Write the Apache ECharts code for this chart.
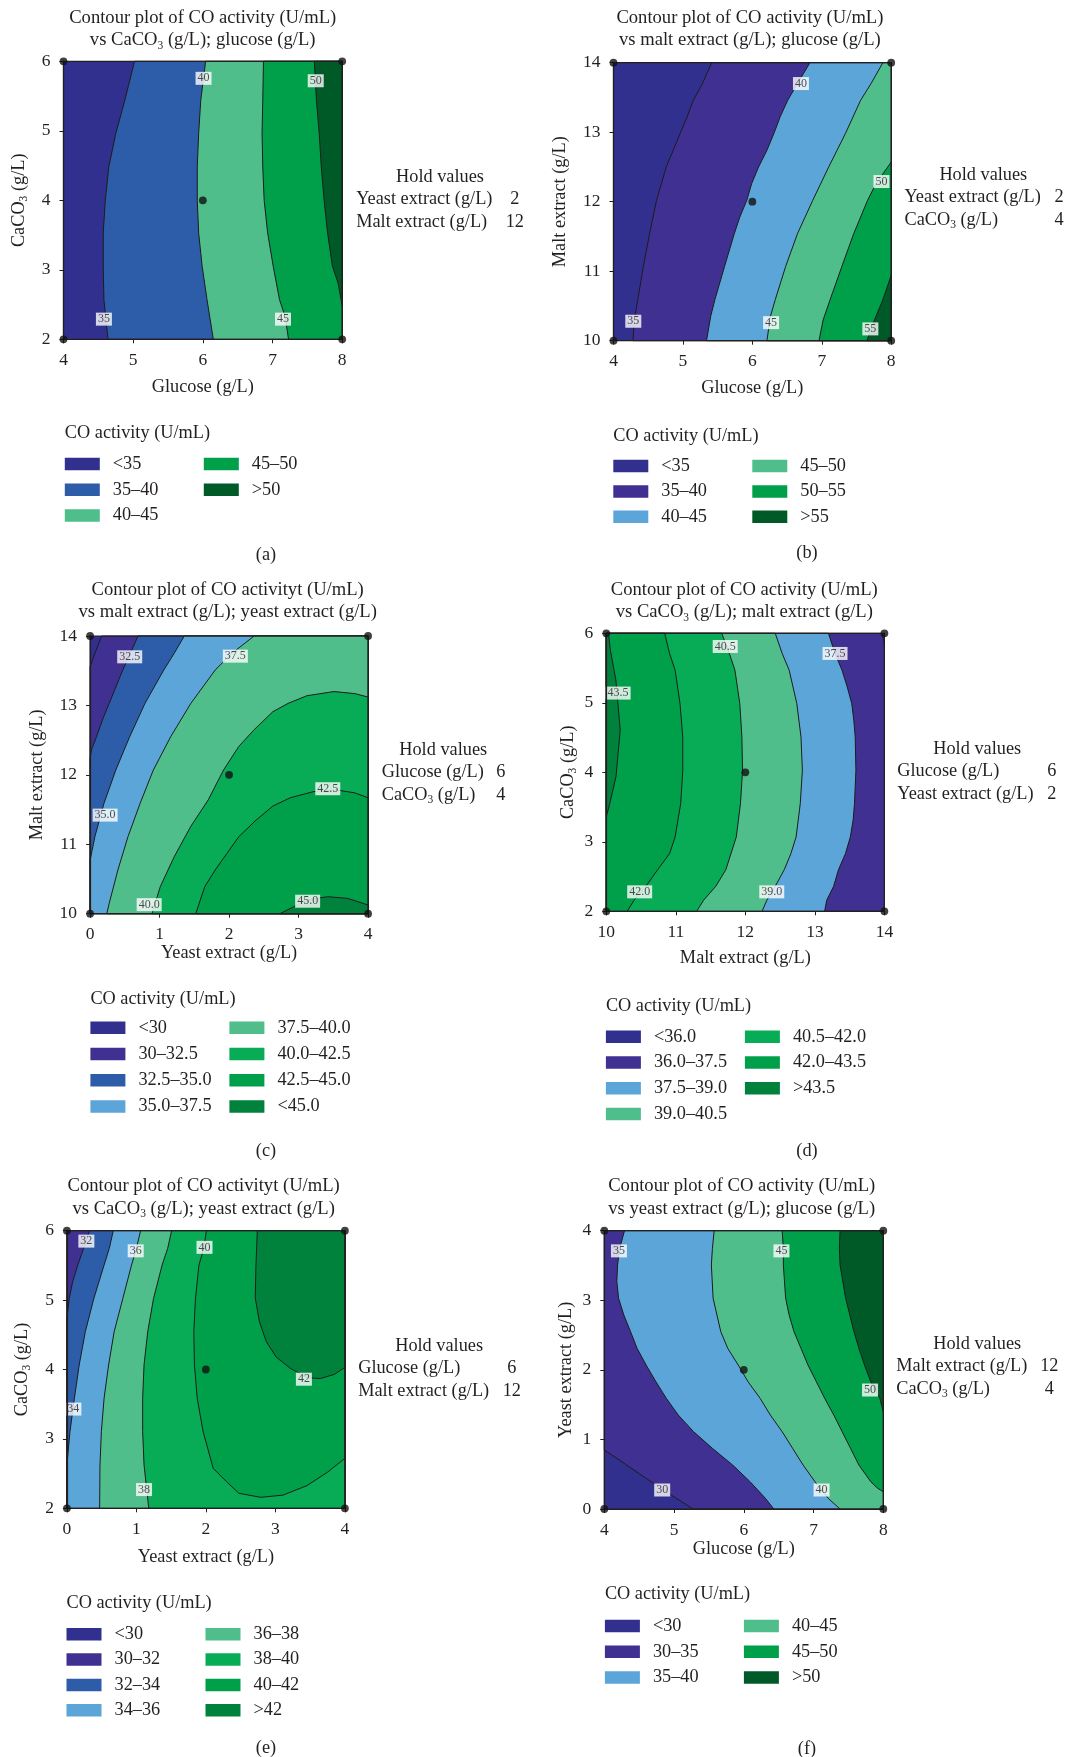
<!DOCTYPE html>
<html>
<head>
<meta charset="utf-8">
<script src="https://cdn.jsdelivr.net/npm/echarts@6/dist/echarts.min.js"></script>
<style>
html,body{margin:0;padding:0;background:#fff;}
#main{width:1070px;height:1757px;}
</style>
</head>
<body>
<div id="main"></div>
<script>
// ===================== DATA =====================
// ---- (a) CO activity vs CaCO3; glucose ----
const aBands = ['<35', '35–40', '40–45', '45–50', '>50'];
const aContours = [ // levels 35, 40, 45, 50 : [glucose, CaCO3]
  [[5.02,6],[4.88,5.44],[4.75,4.96],[4.65,4.48],[4.60,4.0],[4.57,3.53],[4.57,3.05],[4.58,2.57],[4.61,2.28],[4.64,2]],
  [[6.04,6],[5.97,5.44],[5.94,4.96],[5.92,4.48],[5.92,4.0],[5.94,3.53],[5.99,3.05],[6.06,2.57],[6.15,2]],
  [[6.87,6],[6.86,5.44],[6.85,4.96],[6.86,4.48],[6.88,4.0],[6.93,3.53],[7.01,3.05],[7.10,2.57],[7.18,2.33],[7.23,2]],
  [[7.60,6],[7.63,5.44],[7.67,4.96],[7.70,4.48],[7.74,4.0],[7.79,3.53],[7.86,3.05],[7.94,2.81],[8,2.49]]
];
const aCloses = [[[8,2],[8,6]], [[8,2],[8,6]], [[8,2],[8,6]], [[8,6]]];
const aLabels = [[6.01,5.755,'40'],[7.62,5.72,'50'],[4.58,2.29,'35'],[7.15,2.29,'45']];
const aPoints = [[4,2],[4,6],[8,2],[8,6],[6,4]];
const aHoldNames = ['Yeast extract (g/L)', 'Malt extract (g/L)'];
const aHoldValues = ['2', '12'];

// ---- (b) CO activity vs malt extract; glucose ----
const bBands = ['<35', '35–40', '40–45', '45–50', '50–55', '>55'];
const bContours = [ // levels 35, 40, 45, 50, 55 : [glucose, malt extract]
  [[5.415,14],[5.28,13.70],[5.15,13.46],[5.06,13.22],[4.96,12.98],[4.86,12.74],[4.76,12.50],[4.69,12.26],[4.62,12.02],[4.52,11.54],[4.43,11.07],[4.35,10.59],[4.30,10.30],[4.28,10]],
  [[6.83,14],[6.65,13.70],[6.51,13.46],[6.40,13.22],[6.31,12.98],[6.21,12.74],[6.09,12.50],[5.99,12.26],[5.92,12.02],[5.82,11.78],[5.74,11.54],[5.60,11.07],[5.46,10.59],[5.40,10.35],[5.34,10]],
  [[7.88,14],[7.71,13.70],[7.56,13.46],[7.34,12.98],[7.10,12.50],[6.87,12.02],[6.65,11.54],[6.48,11.07],[6.33,10.59],[6.26,10.35],[6.21,10]],
  [[8,12.57],[7.78,12.26],[7.66,12.02],[7.46,11.54],[7.29,11.07],[7.12,10.59],[7.02,10.30],[6.96,10]],
  [[8,10.94],[7.88,10.59],[7.76,10.30],[7.65,10]]
];
const bCloses = [[[8,10],[8,14]], [[8,10],[8,14]], [[8,10],[8,14]], [[8,10]], [[8,10]]];
const bLabels = [[6.70,13.70,'40'],[7.86,12.29,'50'],[4.285,10.28,'35'],[6.27,10.26,'45'],[7.70,10.17,'55']];
const bPoints = [[4,10],[4,14],[8,10],[8,14],[6,12]];
const bHoldNames = ['Yeast extract (g/L)', 'CaCO{s|3} (g/L)'];
const bHoldValues = ['2', '4'];

// ---- (c) CO activity vs malt extract; yeast extract ----
const cBands = ['<30', '30–32.5', '32.5–35.0', '35.0–37.5', '37.5–40.0', '40.0–42.5', '42.5–45.0', '<45.0'];
const cContours = [ // levels 30, 32.5, 35, 37.5, 40, 42.5, 45 : [yeast extract, malt extract]
  [[0.167,14],[0.08,13.78],[0,13.56]],
  [[0.69,14],[0.47,13.51],[0.275,13.03],[0.177,12.79],[0.093,12.55],[0.02,12.36],[0,12.24]],
  [[1.355,14],[1.21,13.75],[1.06,13.51],[0.79,13.03],[0.57,12.55],[0.37,12.07],[0.20,11.59],[0.069,11.11],[0,10.77]],
  [[2.36,14],[2.04,13.75],[1.80,13.51],[1.45,13.03],[1.16,12.55],[0.91,12.07],[0.72,11.59],[0.545,11.11],[0.40,10.63],[0.275,10.15],[0.24,10]],
  [[0.89,10],[1.01,10.39],[1.21,10.82],[1.45,11.26],[1.70,11.64],[1.92,12.07],[2.14,12.41],[2.36,12.65],[2.63,12.91],[2.85,13.03],[3.12,13.14],[3.51,13.20],[3.81,13.17],[4,13.12]],
  [[1.52,10],[1.65,10.39],[1.80,10.63],[1.97,10.87],[2.14,11.11],[2.39,11.35],[2.63,11.55],[2.88,11.67],[3.22,11.76],[3.56,11.78],[3.81,11.74],[4,11.67]],
  [[2.73,10],[2.93,10.10],[3.12,10.20],[3.42,10.245],[3.71,10.22],[4,10.125]]
];
const cCloses = [[[0,10],[4,10],[4,14]], [[0,10],[4,10],[4,14]], [[0,10],[4,10],[4,14]], [[4,10],[4,14]], [[4,10]], [[4,10]], [[4,10]]];
const cLabels = [[0.57,13.70,'32.5'],[2.09,13.71,'37.5'],[3.42,11.80,'42.5'],[0.216,11.42,'35.0'],[0.85,10.13,'40.0'],[3.13,10.18,'45.0']];
const cPoints = [[0,10],[0,14],[4,10],[4,14],[2,12]];
const cHoldNames = ['Glucose (g/L)', 'CaCO{s|3} (g/L)'];
const cHoldValues = ['6', '4'];

// ---- (d) CO activity vs CaCO3; malt extract ----
const dBands = ['<36.0', '36.0–37.5', '37.5–39.0', '39.0–40.5', '40.5–42.0', '42.0–43.5', '>43.5'];
const dContours = [ // levels 36, 37.5, 39, 40.5, 42, 43.5 : [malt extract, CaCO3]
  [[13.96,6],[13.99,5.9],[14,5.8]],
  [[13.195,6],[13.29,5.71],[13.39,5.47],[13.465,5.23],[13.53,4.99],[13.56,4.75],[13.58,4.51],[13.59,4.03],[13.57,3.55],[13.55,3.31],[13.51,3.07],[13.44,2.83],[13.34,2.60],[13.27,2.36],[13.17,2.16],[13.14,2]],
  [[12.43,6],[12.53,5.71],[12.63,5.47],[12.74,4.99],[12.80,4.51],[12.82,4.03],[12.79,3.55],[12.73,3.07],[12.655,2.83],[12.56,2.60],[12.43,2.36],[12.31,2.16],[12.24,2]],
  [[11.66,6],[11.77,5.71],[11.85,5.47],[11.92,4.99],[11.95,4.51],[11.96,4.03],[11.93,3.55],[11.87,3.07],[11.72,2.60],[11.575,2.36],[11.40,2.16],[11.30,2]],
  [[10.84,6],[10.91,5.71],[10.99,5.47],[11.06,4.99],[11.10,4.51],[11.10,4.03],[11.07,3.55],[10.99,3.07],[10.91,2.83],[10.74,2.60],[10.57,2.36],[10.40,2.16],[10.30,2]],
  [[10.03,6],[10.06,5.75],[10.137,5.33],[10.20,4.61],[10.14,3.94],[10.05,3.55],[10,3.36]]
];
const dCloses = [[[14,2],[10,2],[10,6]], [[10,2],[10,6]], [[10,2],[10,6]], [[10,2],[10,6]], [[10,2],[10,6]], [[10,6]]];
const dLabels = [[11.71,5.81,'40.5'],[13.29,5.71,'37.5'],[10.17,5.14,'43.5'],[10.48,2.28,'42.0'],[12.38,2.28,'39.0']];
const dPoints = [[10,2],[10,6],[14,2],[14,6],[12,4]];
const dHoldNames = ['Glucose (g/L)', 'Yeast extract (g/L)'];
const dHoldValues = ['6', '2'];

// ---- (e) CO activity vs CaCO3; yeast extract ----
const eBands = ['<30', '30–32', '32–34', '34–36', '36–38', '38–40', '40–42', '>42'];
const eContours = [ // levels 30 (whole plot above), 32, 34, 36, 38, 40, 42 : [yeast extract, CaCO3]
  [],
  [[0.324,6],[0.24,5.745],[0.157,5.505],[0.083,5.265],[0.034,5.025],[0,4.737]],
  [[0.667,6],[0.61,5.745],[0.535,5.505],[0.388,5.025],[0.265,4.545],[0.177,4.065],[0.108,3.585],[0.044,3.104],[0,2.624]],
  [[1.06,6],[1.00,5.745],[0.93,5.505],[0.805,5.025],[0.68,4.545],[0.60,4.065],[0.535,3.585],[0.496,3.104],[0.476,2.624],[0.471,2]],
  [[1.507,6],[1.45,5.745],[1.37,5.505],[1.247,5.025],[1.163,4.545],[1.11,4.065],[1.09,3.585],[1.09,3.104],[1.11,2.624],[1.178,2]],
  [[2.007,6],[1.97,5.745],[1.90,5.505],[1.85,5.025],[1.826,4.545],[1.835,4.065],[1.875,3.585],[1.96,3.104],[2.105,2.576],[2.30,2.38],[2.474,2.216],[2.79,2.158],[3.11,2.19],[3.455,2.327],[3.75,2.52],[4,2.72]],
  [[2.74,6],[2.72,5.5],[2.71,5.03],[2.77,4.69],[2.87,4.40],[3.01,4.18],[3.21,4.02],[3.46,3.88],[3.65,3.87],[3.85,3.93],[4,4.03]]
];
const eCloses = [[[0,2],[4,2],[4,6],[0,6]], [[0,2],[4,2],[4,6]], [[0,2],[4,2],[4,6]], [[4,2],[4,6]], [[4,2],[4,6]], [[4,6]], [[4,6]]];
const eLabels = [[0.28,5.85,'32'],[0.99,5.71,'36'],[1.98,5.76,'40'],[3.41,3.86,'42'],[0.093,3.43,'34'],[1.11,2.27,'38']];
const ePoints = [[0,2],[0,6],[4,2],[4,6],[2,4]];
const eHoldNames = ['Glucose (g/L)', 'Malt extract (g/L)'];
const eHoldValues = ['6', '12'];

// ---- (f) CO activity vs yeast extract; glucose ----
const fBands = ['<30', '30–35', '35–40', '40–45', '45–50', '>50'];
const fContours = [ // levels 30, 35, 40, 45, 50 : [glucose, yeast extract]
  [[4,0.848],[4.18,0.728],[4.425,0.56],[4.67,0.393],[4.96,0.20],[5.11,0.105],[5.27,0]],
  [[4.29,4],[4.22,3.746],[4.19,3.507],[4.18,3.267],[4.205,3.028],[4.28,2.788],[4.377,2.548],[4.47,2.309],[4.60,2.069],[4.74,1.830],[4.89,1.590],[5.06,1.351],[5.28,1.111],[5.55,0.872],[5.84,0.632],[6.09,0.393],[6.31,0.153],[6.43,0]],
  [[5.575,4],[5.55,3.746],[5.535,3.507],[5.56,3.028],[5.67,2.548],[5.77,2.309],[5.92,2.069],[6.06,1.830],[6.235,1.590],[6.38,1.351],[6.55,1.111],[6.70,0.872],[6.85,0.632],[7.02,0.393],[7.21,0.153],[7.38,0]],
  [[6.55,4],[6.567,3.746],[6.567,3.507],[6.60,3.028],[6.65,2.788],[6.72,2.548],[6.82,2.309],[6.92,2.069],[7.04,1.830],[7.16,1.590],[7.29,1.351],[7.41,1.111],[7.53,0.872],[7.65,0.632],[7.82,0.393],[7.92,0.297],[8,0.249]],
  [[7.38,4],[7.37,3.746],[7.38,3.507],[7.46,3.028],[7.58,2.548],[7.65,2.309],[7.73,2.069],[7.82,1.830],[7.95,1.590],[8,1.399]]
];
const fCloses = [[[8,0],[8,4],[4,4]], [[8,0],[8,4]], [[8,0],[8,4]], [[8,4]], [[8,4]]];
const fLabels = [[4.21,3.71,'35'],[6.54,3.71,'45'],[7.81,1.71,'50'],[4.83,0.273,'30'],[7.115,0.273,'40']];
const fPoints = [[4,0],[4,4],[8,0],[8,4],[6,2]];
const fHoldNames = ['Malt extract (g/L)', 'CaCO{s|3} (g/L)'];
const fHoldValues = ['12', '4'];

// ===================== STYLE / LAYOUT =====================
const TXT = '#231f20';
const LINE = '#1c1c1c';
const FONT = '"Liberation Serif", "Times New Roman", serif';
const FS = 18.3;
const C = {navy:'#31308f', purple:'#3f3092', blue:'#2d5ca8', lblue:'#5ca5d9', lgreen:'#4fbe8b',
           green1:'#08ac56', green2:'#00a04b', dgreen:'#00823d', darkest:'#005a28'};
const RICH = {s:{fontFamily:FONT, fontSize:11.5, color:TXT, verticalAlign:'bottom'}};
const GRICH = {s:{fontFamily:FONT, fontSize:11.5, fill:TXT, verticalAlign:'bottom'}};

const panels = [
  {id:'a', bands:aBands, contours:aContours, closes:aCloses, labels:aLabels, points:aPoints, holdNames:aHoldNames, holdValues:aHoldValues,
   colors:[C.navy, C.blue, C.lgreen, C.green2, C.darkest],
   title:'Contour plot of CO activity (U/mL)\nvs CaCO{s|3} (g/L); glucose (g/L)', titleX:202.7, titleY:6.5,
   grid:[63.5,61.3,278.7,278], xr:[4,8], yr:[2,6], xName:'Glucose (g/L)', yName:'CaCO{s|3} (g/L)', xGap:37, yGap:33.7,
   hold:{cx:440, y:177, lx:356.2, vx:514.8}, leg:{x:64.8, titleY:433, rowY:464, n1:3, pitch:25.8}, cap:{t:'(a)', x:266, y:555}},
  {id:'b', bands:bBands, contours:bContours, closes:bCloses, labels:bLabels, points:bPoints, holdNames:bHoldNames, holdValues:bHoldValues,
   colors:[C.navy, C.purple, C.lblue, C.lgreen, C.green2, C.darkest],
   title:'Contour plot of CO activity (U/mL)\nvs malt extract (g/L); glucose (g/L)', titleX:749.9, titleY:6.5,
   grid:[613.5,62.7,277.7,278], xr:[4,8], yr:[10,14], xName:'Glucose (g/L)', yName:'Malt extract (g/L)', xGap:36, yGap:41.9,
   hold:{cx:983.3, y:175, lx:904.5, vx:1059}, leg:{x:613.3, titleY:436, rowY:466, n1:3, pitch:25.4}, cap:{t:'(b)', x:807, y:553}},
  {id:'c', bands:cBands, contours:cContours, closes:cCloses, labels:cLabels, points:cPoints, holdNames:cHoldNames, holdValues:cHoldValues,
   colors:[C.navy, C.purple, C.blue, C.lblue, C.lgreen, C.green1, C.green2, C.dgreen],
   title:'Contour plot of CO activityt (U/mL)\nvs malt extract (g/L); yeast extract (g/L)', titleX:227.7, titleY:578.5,
   grid:[90.1,636,278,277.7], xr:[0,4], yr:[10,14], xName:'Yeast extract (g/L)', yName:'Malt extract (g/L)', xGap:28.5, yGap:41.5,
   hold:{cx:443.2, y:750, lx:381.8, vx:500.8}, leg:{x:90.4, titleY:999.3, rowY:1027.7, n1:4, pitch:26.3}, cap:{t:'(c)', x:266, y:1151}},
  {id:'d', bands:dBands, contours:dContours, closes:dCloses, labels:dLabels, points:dPoints, holdNames:dHoldNames, holdValues:dHoldValues,
   colors:[C.navy, C.purple, C.lblue, C.lgreen, C.green1, C.green2, C.dgreen],
   title:'Contour plot of CO activity (U/mL)\nvs CaCO{s|3} (g/L); malt extract (g/L)', titleX:744.3, titleY:578.5,
   grid:[606.3,633.3,278.1,278], xr:[10,14], yr:[2,6], xName:'Malt extract (g/L)', yName:'CaCO{s|3} (g/L)', xGap:36, yGap:26.9,
   hold:{cx:977.2, y:749, lx:897.3, vx:1051.9}, leg:{x:605.9, titleY:1006, rowY:1036.7, n1:4, pitch:25.8}, cap:{t:'(d)', x:807, y:1151}},
  {id:'e', bands:eBands, contours:eContours, closes:eCloses, labels:eLabels, points:ePoints, holdNames:eHoldNames, holdValues:eHoldValues,
   colors:[C.navy, C.purple, C.blue, C.lblue, C.lgreen, C.green1, C.green2, C.dgreen],
   title:'Contour plot of CO activityt (U/mL)\nvs CaCO{s|3} (g/L); yeast extract (g/L)', titleX:203.7, titleY:1175,
   grid:[66.9,1230.7,278,277.6], xr:[0,4], yr:[2,6], xName:'Yeast extract (g/L)', yName:'CaCO{s|3} (g/L)', xGap:37.5, yGap:33.7,
   hold:{cx:439.1, y:1346, lx:358.2, vx:511.8}, leg:{x:66.5, titleY:1603, rowY:1634.3, n1:4, pitch:25.3}, cap:{t:'(e)', x:266, y:1748}},
  {id:'f', bands:fBands, contours:fContours, closes:fCloses, labels:fLabels, points:fPoints, holdNames:fHoldNames, holdValues:fHoldValues,
   colors:[C.navy, C.purple, C.lblue, C.lgreen, C.green2, C.darkest],
   title:'Contour plot of CO activity (U/mL)\nvs yeast extract (g/L); glucose (g/L)', titleX:741.7, titleY:1175,
   grid:[604.3,1230.7,279,278.3], xr:[4,8], yr:[0,4], xName:'Glucose (g/L)', yName:'Yeast extract (g/L)', xGap:29, yGap:27.6,
   hold:{cx:977.2, y:1344, lx:896.3, vx:1049.3}, leg:{x:604.9, titleY:1594, rowY:1626, n1:3, pitch:25.8}, cap:{t:'(f)', x:807, y:1749}}
];

// ===================== BUILD OPTION =====================
const option = {animation:false, backgroundColor:'#ffffff', title:[], grid:[], xAxis:[], yAxis:[], legend:[], series:[], graphic:[]};
const LEG_ITEM_H = 18.3; // rendered height of one legend row (text box)

function gtext(x, y, text, align) {
  return {type:'text', x:x, y:y, silent:true, z:10,
    style:{text:text, fontFamily:FONT, fontSize:FS, fill:TXT, align:align, verticalAlign:'middle', lineHeight:22, rich:GRICH}};
}

panels.forEach(function (p, k) {
  const g = p.grid;
  option.title.push({text:p.title, left:p.titleX, top:p.titleY, padding:0, itemGap:0,
    textAlign:'center', textVerticalAlign:'top',
    textStyle:{fontFamily:FONT, fontSize:18.6, fontWeight:'normal', color:TXT, lineHeight:22.5, rich:RICH}});
  option.grid.push({left:g[0], top:g[1], width:g[2], height:g[3], show:true, z:5,
    backgroundColor:'transparent', borderColor:TXT, borderWidth:1.2, containLabel:false, outerBoundsMode:'none'});
  const axisCommon = {type:'value', gridIndex:k, interval:1, z:5, nameLocation:'middle', nameMoveOverlap:false,
    nameTextStyle:{fontFamily:FONT, fontSize:FS, color:TXT, lineHeight:22, rich:RICH},
    axisLine:{show:true, onZero:false, lineStyle:{color:TXT, width:1.2}},
    axisTick:{show:true, inside:false, length:4, lineStyle:{color:TXT, width:1}},
    splitLine:{show:false}};
  option.xAxis.push(Object.assign({}, axisCommon, {min:p.xr[0], max:p.xr[1], name:p.xName, nameGap:p.xGap,
    axisLabel:{show:true, margin:12, fontFamily:FONT, fontSize:17.5, color:TXT, showMinLabel:true, showMaxLabel:true, hideOverlap:false}}));
  option.yAxis.push(Object.assign({}, axisCommon, {min:p.yr[0], max:p.yr[1], name:p.yName, nameGap:p.yGap,
    axisLabel:{show:true, margin:13, fontFamily:FONT, fontSize:17.5, color:TXT, showMinLabel:true, showMaxLabel:true, hideOverlap:false}}));

  const full = [[p.xr[0],p.yr[0]],[p.xr[1],p.yr[0]],[p.xr[1],p.yr[1]],[p.xr[0],p.yr[1]]];
  const names = p.bands.map(function (b) { return p.id + '|' + b; });
  p.bands.forEach(function (b, i) {
    const poly = i === 0 ? full : p.contours[i - 1].concat(p.closes[i - 1]);
    const color = p.colors[i];
    option.series.push({type:'custom', name:names[i], coordinateSystem:'cartesian2d', xAxisIndex:k, yAxisIndex:k,
      data:poly, itemStyle:{color:color}, silent:true, z:2,
      renderItem:function (params, api) {
        if (params.dataIndex !== 0) return null;
        return {type:'polygon', shape:{points:poly.map(function (pt) { return api.coord(pt); })},
          style:{fill:color, stroke: i === 0 ? null : LINE, lineWidth:1}};
      }});
  });
  // contour value labels
  option.series.push({type:'scatter', name:p.id + '-labels', xAxisIndex:k, yAxisIndex:k, silent:true, clip:false, z:4,
    symbol:'circle', symbolSize:0.1, itemStyle:{color:'rgba(0,0,0,0)'},
    data:p.labels.map(function (l) { return {name:l[2], value:[l[0], l[1]]}; }),
    label:{show:true, position:'inside', formatter:'{b}', backgroundColor:'#ffffff', padding:[1,2,0,2],
      fontFamily:FONT, fontSize:12, lineHeight:12, color:TXT},
    labelLayout:{hideOverlap:false}});
  // design points
  option.series.push({type:'scatter', name:p.id + '-points', xAxisIndex:k, yAxisIndex:k, silent:true, clip:false, z:6,
    symbol:'circle', symbolSize:7.8, itemStyle:{color:'#111111'}, data:p.points});

  // legends (two columns)
  const L = p.leg;
  [names.slice(0, L.n1), names.slice(L.n1)].forEach(function (arr, c) {
    option.legend.push({orient:'vertical', left:L.x + c * 139, top:L.rowY - LEG_ITEM_H / 2, padding:0,
      itemGap:L.pitch - LEG_ITEM_H,
      itemWidth:35, itemHeight:12.5, icon:'rect', selectedMode:false, data:arr,
      formatter:function (n) { return n.split('|')[1]; },
      itemStyle:{borderWidth:0},
      textStyle:{fontFamily:FONT, fontSize:FS, color:TXT, lineHeight:LEG_ITEM_H, padding:[0,0,0,8]}});
  });
  option.graphic.push(gtext(L.x, L.titleY, 'CO activity (U/mL)', 'left'));
  // hold values
  const H = p.hold;
  option.graphic.push(gtext(H.cx, H.y, 'Hold values', 'center'));
  p.holdNames.forEach(function (n, r) {
    option.graphic.push(gtext(H.lx, H.y + 22.5 * (r + 1), n, 'left'));
    option.graphic.push(gtext(H.vx, H.y + 22.5 * (r + 1), p.holdValues[r], 'center'));
  });
  option.graphic.push(gtext(p.cap.x, p.cap.y, p.cap.t, 'center'));
});

const chart = echarts.init(document.getElementById('main'), null, {renderer:'canvas'});
chart.setOption(option);
</script>
</body>
</html>
